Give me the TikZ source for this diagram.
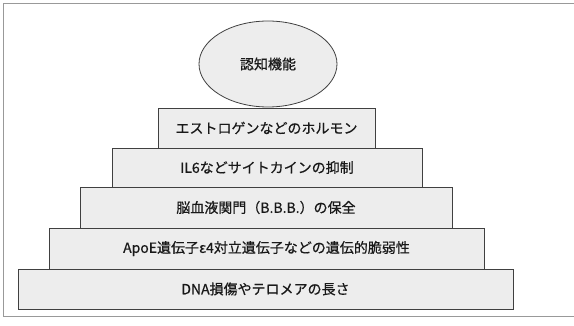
\documentclass[tikz,border=0pt]{standalone}
\usepackage{fontspec}
\setmainfont[FakeBold=0.6]{Noto Sans CJK JP}
\begin{document}
\begin{tikzpicture}[x=1pt,y=-1pt,
  tier/.style={draw=black!75,line width=0.8pt,fill=black!7},
  lbl/.style={font=\fontsize{14}{16}\selectfont,text=black!90}]
\useasboundingbox (0,0) rectangle (574,326);
\draw[black!40,line width=0.5pt] (3,3) rectangle (574,316);
\path[tier] (18,269) rectangle (513,309);
\path[tier] (49,228) rectangle (484,269);
\path[tier] (80,187) rectangle (452,228);
\path[tier] (112,148) rectangle (422,187);
\path[tier] (158,108) rectangle (375,148);
\path[tier] (268,64) ellipse [x radius=69,y radius=43];
\node[lbl] (top) at (268,64) {認知機能};
\node[lbl] (t1) at (266.5,128) {エストロゲンなどのホルモン};
\node[lbl] (t2) at (267,167.5) {IL6などサイトカインの抑制};
\node[lbl] (t3) at (266,207.5) {脳血液関門（B.B.B.）の保全};
\node[lbl] (t4) at (266.5,248.5) {ApoE遺伝子ε4対立遺伝子などの遺伝的脆弱性};
\node[lbl] (t5) at (265.5,289) {DNA損傷やテロメアの長さ};
\end{tikzpicture}
\end{document}
